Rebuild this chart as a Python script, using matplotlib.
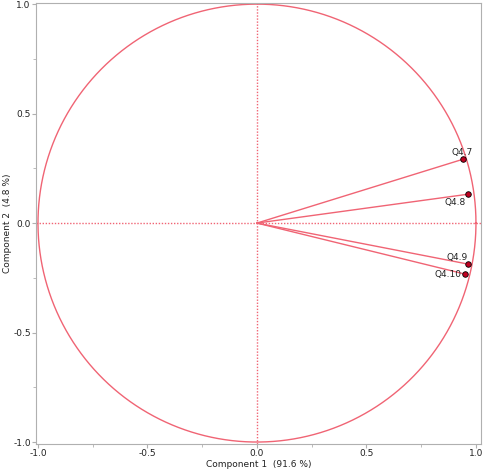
import numpy as np
import matplotlib
matplotlib.use("Agg")
import matplotlib.pyplot as plt
from matplotlib.ticker import MultipleLocator

labels = ["Q4.7", "Q4.8", "Q4.9", "Q4.10"]
comp1 = [0.939, 0.965, 0.962, 0.950]
comp2 = [0.291, 0.132, -0.187, -0.233]
label_offsets = [(-8, 1.5, "left", "bottom"), (-17, -2.5, "left", "top"),
                 (-15, 1.5, "left", "bottom"), (-22, -0.5, "left", "center")]

fig = plt.figure(figsize=(4.84, 4.72), dpi=100)
ax = fig.add_axes([0.0744, 0.0593, 0.9194, 0.9343])

red = "#f06474"
theta = np.linspace(0, 2 * np.pi, 400)
ax.plot(np.cos(theta), np.sin(theta), color=red, lw=1.0)
ax.axhline(0, color=red, lw=1.0, ls=(0, (1, 1.2)))
ax.axvline(0, color=red, lw=1.0, ls=(0, (1, 1.2)))

for x, y, lab, (dx, dy, ha, va) in zip(comp1, comp2, labels, label_offsets):
    ax.plot([0, x], [0, y], color=red, lw=1.0)
    ax.plot(x, y, 'o', ms=4, mfc="#c00020", mec="black", mew=0.6)
    ax.annotate(lab, (x, y), xytext=(dx, dy), textcoords="offset points",
                ha=ha, va=va, fontsize=6.5, color="#222222")

ax.set_xlim(-1.009, 1.023)
ax.set_ylim(-1.009, 1.005)
ax.xaxis.set_major_locator(MultipleLocator(0.5))
ax.yaxis.set_major_locator(MultipleLocator(0.5))
ax.xaxis.set_minor_locator(MultipleLocator(0.25))
ax.yaxis.set_minor_locator(MultipleLocator(0.25))
ax.xaxis.set_major_formatter(plt.FuncFormatter(lambda v, p: f"{v:.1f}"))
ax.yaxis.set_major_formatter(plt.FuncFormatter(lambda v, p: f"{v:.1f}"))
ax.tick_params(which="both", direction="out", color="#b0b0b0", labelsize=6.5,
               labelcolor="#222222", pad=0.8)
ax.tick_params(which="major", length=3)
ax.tick_params(which="minor", length=2)
for s in ax.spines.values():
    s.set_color("#b0b0b0")
    s.set_linewidth(0.8)
ax.set_xlabel("Component 1  (91.6 %)", fontsize=6.5, color="#222222", labelpad=1)
ax.set_ylabel("Component 2  (4.8 %)", fontsize=6.5, color="#222222", labelpad=1)

fig.savefig("out.png", dpi=100)
